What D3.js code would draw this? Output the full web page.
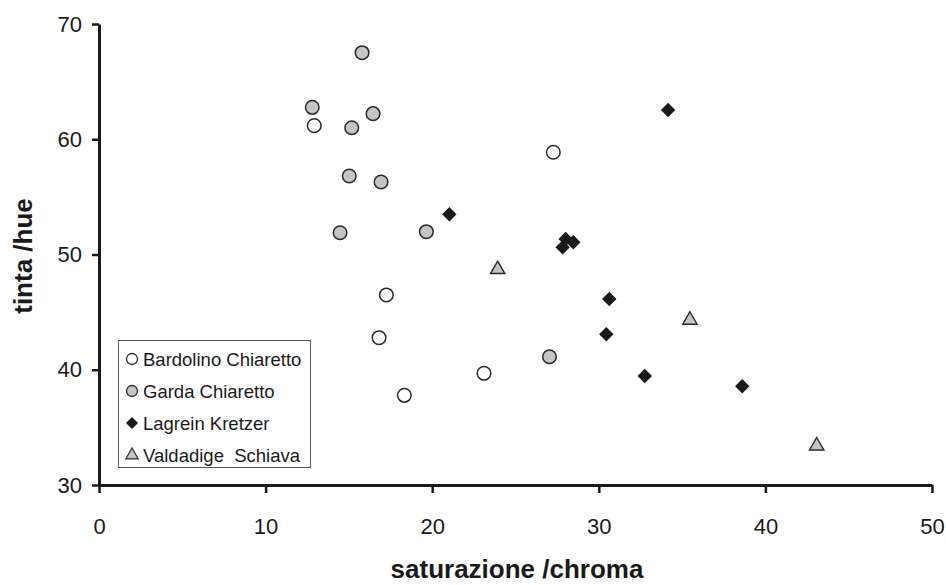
<!DOCTYPE html>
<html><head><meta charset="utf-8">
<script src="https://cdn.jsdelivr.net/npm/d3@7"></script>
<style>
html,body{margin:0;padding:0;background:#fff;}
svg{display:block;font-family:"Liberation Sans",Arial,sans-serif;}
</style></head>
<body><svg id="c" width="946" height="585"></svg>
<script>
const seriesNames = ["Bardolino Chiaretto","Garda Chiaretto","Lagrein Kretzer","Valdadige  Schiava"];
const bardolinoX = [12.92, 27.27, 17.25, 16.81, 23.11, 18.33];
const bardolinoY = [61.18, 58.87, 46.49, 42.78, 39.69, 37.78];
const gardaX = [15.79, 12.80, 16.45, 15.17, 15.02, 16.93, 14.47, 19.65, 27.04];
const gardaY = [67.51, 62.77, 62.22, 61.00, 56.81, 56.29, 51.89, 51.98, 41.13];
const lagreinX = [34.16, 21.03, 28.01, 28.47, 27.83, 30.63, 30.45, 32.76, 38.61];
const lagreinY = [62.54, 53.49, 51.35, 51.06, 50.62, 46.14, 43.08, 39.46, 38.57];
const valdadigeX = [23.93, 35.47, 43.08];
const valdadigeY = [48.72, 44.32, 33.41];
const xTicks = [0,10,20,30,40,50];
const yTicks = [30,40,50,60,70];
const xTitle = "saturazione /chroma";
const yTitle = "tinta /hue";

const svg = d3.select("#c");
const x = d3.scaleLinear().domain([0,50]).range([99,932]);
const y = d3.scaleLinear().domain([30,70]).range([485,24]);

// axes
const xAxis = svg.append("g").attr("transform","translate(0,485)")
  .call(d3.axisBottom(x).tickValues(xTicks).tickSize(8).tickSizeOuter(0).tickPadding(25));
const yAxis = svg.append("g").attr("transform","translate(99,0)")
  .call(d3.axisLeft(y).tickValues(yTicks).tickSize(7).tickSizeOuter(0).tickPadding(10));
[xAxis,yAxis].forEach(a=>{
  a.select(".domain").attr("stroke","#1a1a1a").attr("stroke-width",3);
  a.selectAll(".tick line").attr("stroke","#1a1a1a").attr("stroke-width",2.5);
  a.selectAll(".tick text").attr("fill","#1a1a1a").style("font-size","22px").style("font-family","Liberation Sans, Arial, sans-serif");
});

svg.append("text").attr("x",517).attr("y",578).attr("text-anchor","middle")
  .style("font-weight","bold").style("font-size","26px").attr("fill","#1a1a1a").text(xTitle);
svg.append("text").attr("transform","translate(32,256) rotate(-90)").attr("text-anchor","middle")
  .style("font-weight","bold").style("font-size","26px").attr("fill","#1a1a1a").text(yTitle);

// markers
function circle(g, fill){ g.append("circle").attr("r",6.8).attr("fill",fill).attr("stroke","#2a2a2a").attr("stroke-width",1.5); }
function diamond(g){ g.append("path").attr("d","M0,-7.2L7.2,0L0,7.2L-7.2,0Z").attr("fill","#1a1a1a"); }
function triangle(g){ g.append("path").attr("d","M0,-8.2L7.2,4.3L-7.2,4.3Z").attr("fill","#c4c4c4").attr("stroke","#2a2a2a").attr("stroke-width",1.4).attr("stroke-linejoin","miter"); }

const series = [
  {xs:bardolinoX, ys:bardolinoY, draw:g=>circle(g,"#ffffff")},
  {xs:gardaX, ys:gardaY, draw:g=>circle(g,"#c4c4c4")},
  {xs:lagreinX, ys:lagreinY, draw:diamond},
  {xs:valdadigeX, ys:valdadigeY, draw:triangle}
];
series.forEach(s=>{
  s.xs.forEach((v,i)=>{
    const g = svg.append("g").attr("transform",`translate(${x(v)},${y(s.ys[i])})`);
    s.draw(g);
  });
});

// legend
const lg = svg.append("g");
lg.append("rect").attr("x",118.5).attr("y",340.5).attr("width",192).attr("height",127)
  .attr("fill","#fff").attr("stroke","#555").attr("stroke-width",1);
seriesNames.forEach((n,i)=>{
  const cy = 359 + i*32;
  const g = lg.append("g").attr("transform",`translate(132,${cy})`);
  if(i===0){ g.append("circle").attr("r",5.5).attr("fill","#fff").attr("stroke","#2a2a2a").attr("stroke-width",1.3); }
  else if(i===1){ g.append("circle").attr("r",5.5).attr("fill","#c4c4c4").attr("stroke","#2a2a2a").attr("stroke-width",1.3); }
  else if(i===2){ g.append("path").attr("d","M0,-6L6,0L0,6L-6,0Z").attr("fill","#1a1a1a"); }
  else { g.append("path").attr("d","M0,-7L6.2,3.8L-6.2,3.8Z").attr("fill","#c4c4c4").attr("stroke","#2a2a2a").attr("stroke-width",1.2); }
  lg.append("text").attr("x",143).attr("y",cy+6.5).style("font-size","18.5px").attr("fill","#1a1a1a").style("white-space","pre").attr("xml:space","preserve").text(n);
});
</script></body></html>
